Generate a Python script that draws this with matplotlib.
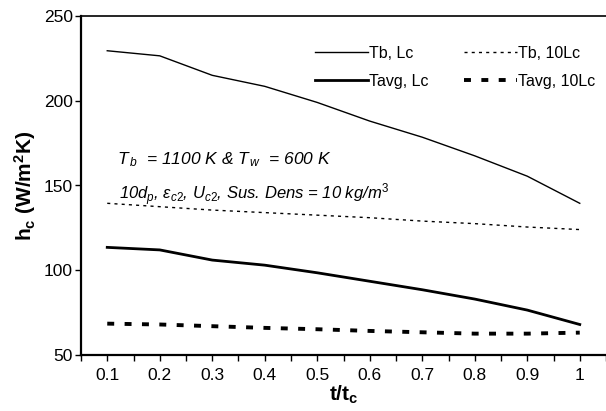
import matplotlib
matplotlib.use("Agg")
import matplotlib.pyplot as plt
import numpy as np

plt.rcParams['font.family'] = ['Liberation Sans', 'DejaVu Sans']
plt.rcParams['mathtext.fontset'] = 'custom'
plt.rcParams['mathtext.rm'] = 'Liberation Sans'
plt.rcParams['mathtext.it'] = 'Liberation Sans:italic'
plt.rcParams['mathtext.bf'] = 'Liberation Sans:bold'
plt.rcParams['lines.scale_dashes'] = False

t = [0.1, 0.2, 0.3, 0.4, 0.5, 0.6, 0.7, 0.8, 0.9, 1.0]
tb_lc = [229.5, 226.5, 215, 208.5, 199, 188, 178.5, 167.5, 155.5, 139.5]
tb_10lc = [139.5, 137.5, 135.5, 134, 132.5, 131, 129, 127.5, 125.5, 124]
tavg_lc = [113.5, 112, 106, 103, 98.5, 93.5, 88.5, 83, 76.5, 68]
tavg_10lc = [68.5, 68, 67, 66, 65.2, 64.2, 63.4, 62.6, 62.6, 63.2]
xticks = [0.1, 0.2, 0.3, 0.4, 0.5, 0.6, 0.7, 0.8, 0.9, 1]
xticklabels = ['0.1', '0.2', '0.3', '0.4', '0.5', '0.6', '0.7', '0.8', '0.9', '1']
yticks = [50, 100, 150, 200, 250]

fig = plt.figure(figsize=(6.06, 4.11), dpi=100)
ax = fig.add_axes([81/606, 56/411, 525/606, 339/411])

l1, = ax.plot(t, tb_lc, color='black', lw=1.0, label='Tb, Lc')
l2, = ax.plot(t, tb_10lc, color='black', lw=1.0, dashes=(2.2, 3.0), label='Tb, 10Lc')
l3, = ax.plot(t, tavg_lc, color='black', lw=2.0, label='Tavg, Lc')
l4, = ax.plot(t, tavg_10lc, color='black', lw=2.8, dashes=(5, 7.5), label='Tavg, 10Lc')

ax.set_xlim(0.05, 0.05 + 525/527.4)
ax.set_ylim(50, 250)
ax.set_xticks(xticks)
ax.set_xticklabels(xticklabels)
ax.set_xticks(np.arange(0.05, 1.06, 0.1), minor=True)
ax.set_yticks(yticks)
ax.tick_params(axis='both', which='both', direction='out', length=4, width=1, labelsize=12.5, colors='black')
ax.tick_params(axis='x', pad=5)
ax.tick_params(axis='y', pad=2)

ax.spines['right'].set_visible(False)
ax.spines['top'].set_linewidth(1.2)
ax.spines['left'].set_linewidth(1.6)
ax.spines['bottom'].set_linewidth(1.6)

ax.set_xlabel(r'$\mathbf{t/t_c}$', fontsize=15, fontweight='bold', labelpad=1)
ax.set_ylabel(r'$\mathbf{h_c}$ (W/m$^\mathbf{2}$K)', fontsize=15, fontweight='bold', labelpad=4)

leg = ax.legend([l1, l3, l2, l4], ['Tb, Lc', 'Tavg, Lc', 'Tb, 10Lc', 'Tavg, 10Lc'],
                ncol=2, loc='upper left', bbox_to_anchor=(0.4457, 0.912), frameon=False,
                fontsize=11.5, handlelength=3.3, handletextpad=0.1, columnspacing=2.2,
                labelspacing=0.8, borderpad=0, borderaxespad=0)

ax.text(0.0686, 0.575, r'$T_{\,b}$  = 1100 K & $T_{\,w}$  = 600 K', transform=ax.transAxes,
        fontsize=12.5, style='italic', va='center', ha='left')
ax.text(0.072, 0.472, r'10$d_p$, $\varepsilon_{c2}$, $U_{c2}$, Sus. Dens = 10 kg/m$^3$',
        transform=ax.transAxes, fontsize=12, style='italic', va='center', ha='left')

fig.savefig('out.png', dpi=100)
